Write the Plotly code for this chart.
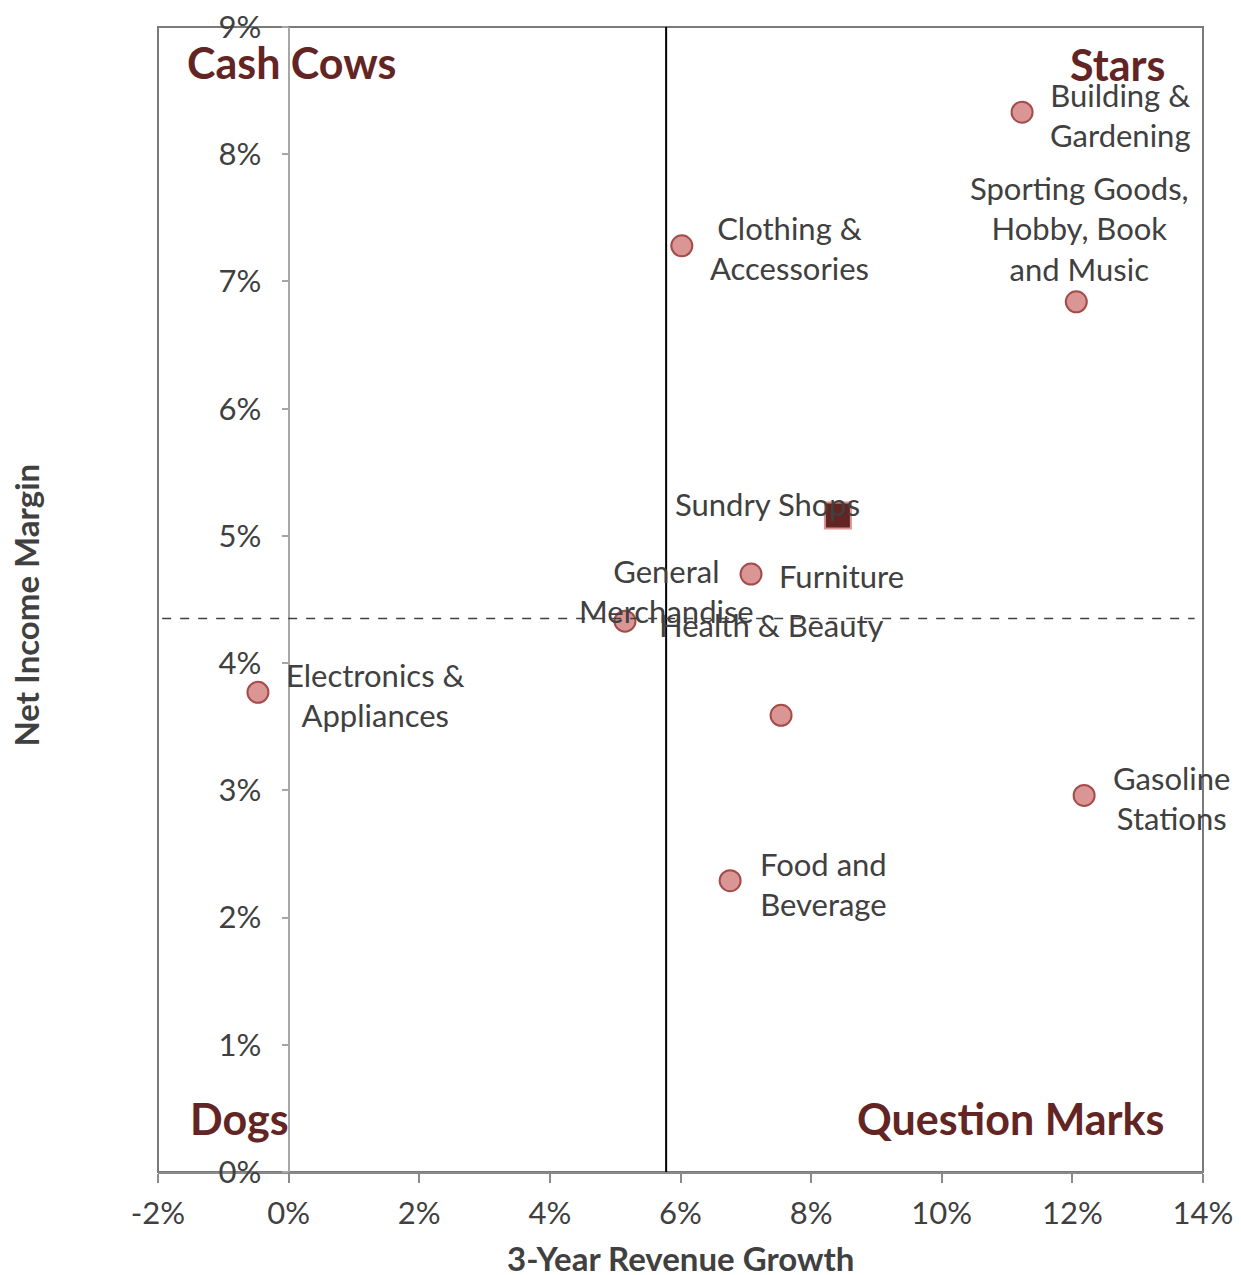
import plotly.graph_objects as go

# ── Data ──────────────────────────────────────────────────────────
industries = [
    "Building & Gardening", "Sporting Goods, Hobby, Book and Music",
    "Clothing & Accessories", "Furniture", "General Merchandise",
    "Electronics & Appliances", "Health & Beauty", "Gasoline Stations",
    "Food and Beverage",
]
revenue_growth = [11.23, 12.06, 6.02, 7.08, 5.15, -0.47, 7.54, 12.18, 6.76]
net_margin = [8.33, 6.84, 7.28, 4.70, 4.33, 3.77, 3.59, 2.96, 2.29]

sundry_name = "Sundry Shops"
sundry_growth = [8.41]
sundry_margin = [5.16]

avg_growth = 5.78
avg_margin = 4.35

x_ticks = [-2, 0, 2, 4, 6, 8, 10, 12, 14]
x_tick_text = ["-2%", "0%", "2%", "4%", "6%", "8%", "10%", "12%", "14%"]
y_ticks = [0, 1, 2, 3, 4, 5, 6, 7, 8, 9]
y_tick_text = ["0%", "1%", "2%", "3%", "4%", "5%", "6%", "7%", "8%", "9%"]

# ── Styling ───────────────────────────────────────────────────────
FONT = "Lato, 'Open Sans', sans-serif"
TEXT = "#404040"
DARK_RED = "#632523"
PINK = "#d99694"
PINK_EDGE = "#a54b4a"
LABEL_SIZE = 31

# label text + placement (anchor, xshift, yshift) keyed by industry
LABELS = {
    "Building & Gardening": ("Building &<br>Gardening", "left", "middle", 26, -3),
    "Sporting Goods, Hobby, Book and Music": ("Sporting Goods,<br>Hobby, Book<br>and Music", "center", "bottom", 3, 12),
    "Clothing & Accessories": ("Clothing &<br>Accessories", "left", "middle", 26, -2),
    "Furniture": ("Furniture", "left", "middle", 26, -2),
    "General Merchandise": ("General<br>Merchandise", "center", "middle", 42, 30),
    "Electronics & Appliances": ("Electronics &<br>Appliances", "left", "middle", 26, -3),
    "Health & Beauty": ("Health & Beauty", "center", "middle", -10, 90),
    "Gasoline Stations": ("Gasoline<br>Stations", "left", "middle", 27, -3),
    "Food and Beverage": ("Food and<br>Beverage", "left", "middle", 28, -3),
}

fig = go.Figure()

fig.add_trace(go.Scatter(
    x=revenue_growth, y=net_margin, mode="markers",
    marker=dict(size=21, color=PINK, line=dict(color=PINK_EDGE, width=2)),
    text=industries, hovertemplate="<b>%{text}</b><br>%{x}% / %{y}%<extra></extra>",
    showlegend=False, cliponaxis=False,
))
fig.add_trace(go.Scatter(
    x=sundry_growth, y=sundry_margin, mode="markers",
    marker=dict(size=26, symbol="square", color=DARK_RED, line=dict(color=PINK, width=2)),
    text=[sundry_name], hovertemplate="<b>%{text}</b><br>%{x}% / %{y}%<extra></extra>",
    showlegend=False,
))

for name, gx, nm in zip(industries, revenue_growth, net_margin):
    txt, xa, ya, dx, dy = LABELS[name]
    fig.add_annotation(
        x=gx, y=nm, text=txt, showarrow=False, xanchor=xa, yanchor=ya,
        xshift=dx, yshift=dy, align="center",
        font=dict(family=FONT, size=LABEL_SIZE, color=TEXT),
    )
fig.add_annotation(
    x=sundry_growth[0], y=sundry_margin[0], text=sundry_name, showarrow=False,
    xanchor="center", yanchor="middle", xshift=-70, yshift=12,
    font=dict(family=FONT, size=LABEL_SIZE, color=TEXT),
)

# quadrant labels
QUAD = [
    ("Cash Cows", 0.026, 0.969, "left"),
    ("Stars", 0.966, 0.967, "right"),
    ("Dogs", 0.029, 0.047, "left"),
    ("Question Marks", 0.965, 0.047, "right"),
]
for txt, px, py, xa in QUAD:
    fig.add_annotation(
        x=px, y=py, xref="paper", yref="paper", text=f"<b>{txt}</b>",
        showarrow=False, xanchor=xa, yanchor="middle",
        font=dict(family=FONT, size=43, color=DARK_RED),
    )

# axis titles
fig.add_annotation(
    x=-0.126, y=0.495, xref="paper", yref="paper", text="<b>Net Income Margin</b>",
    textangle=-90, showarrow=False, xanchor="center", yanchor="middle",
    font=dict(family=FONT, size=33, color=TEXT),
)
fig.add_annotation(
    x=0.5, y=-0.075, xref="paper", yref="paper", text="<b>3-Year Revenue Growth</b>",
    showarrow=False, xanchor="center", yanchor="middle",
    font=dict(family=FONT, size=33, color=TEXT),
)

# average lines + frame
fig.add_shape(type="line", xref="x", yref="paper", x0=avg_growth, x1=avg_growth,
              y0=0, y1=1, line=dict(color="#000000", width=2))
fig.add_shape(type="line", xref="paper", yref="y", x0=0.004, x1=0.992,
              y0=avg_margin, y1=avg_margin, line=dict(color="#404040", width=1.5, dash="dash"))
fig.add_shape(type="rect", xref="paper", yref="paper", x0=0, x1=1, y0=0, y1=1,
              line=dict(color="#7a7a7a", width=2), layer="below")

# page body adds an 8px offset, so the figure is 8px smaller than the window
fig.update_layout(
    width=1233, height=1267,
    margin=dict(l=150, r=38, t=19, b=103),
    plot_bgcolor="white", paper_bgcolor="white",
    font=dict(family=FONT, color=TEXT, size=31),
    xaxis=dict(
        range=[-2, 14], tickvals=x_ticks, ticktext=x_tick_text, automargin=False,
        showgrid=False, zeroline=False, showline=True, linecolor="#8a8a8a", linewidth=2,
        ticks="outside", ticklen=9, tickwidth=2, tickcolor="#8a8a8a",
        ticklabelstandoff=4, ticklabeloverflow="allow",
        tickfont=dict(family=FONT, size=31, color=TEXT),
    ),
    yaxis=dict(
        range=[0, 9], tickvals=y_ticks, ticktext=y_tick_text, automargin=False,
        anchor="free", position=0.125,
        showgrid=False, zeroline=False, showline=True, linecolor="#a6a6a6", linewidth=2,
        ticks="outside", ticklen=6, tickwidth=2, tickcolor="#a6a6a6",
        ticklabelstandoff=14, ticklabeloverflow="allow",
        tickfont=dict(family=FONT, size=31, color=TEXT),
    ),
)

fig.write_html("out.html")
